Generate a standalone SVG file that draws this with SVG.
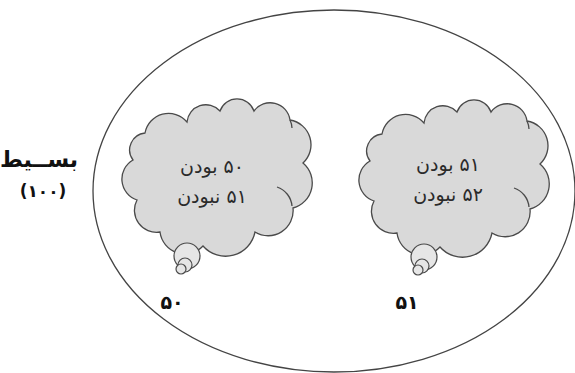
<svg xmlns="http://www.w3.org/2000/svg" width="575" height="373" viewBox="0 0 575 373">
<style>
.cloud{fill:#d9d9d9;stroke:#4a4a4a;stroke-width:1.3}
.bub{fill:#e6e6e6;stroke:#4a4a4a;stroke-width:1.2}
.inner{fill:none;stroke:#4a4a4a;stroke-width:1.3}
.ct{font-family:"DejaVu Sans",sans-serif;font-size:19px;fill:#2a2a2a;text-anchor:middle;direction:rtl}
.lb{font-family:"DejaVu Sans",sans-serif;font-weight:bold;fill:#111;text-anchor:middle}
</style>
<defs>
<g id="cloudShape">
<path class="cloud" d="M145 133 A24 24 0 0 1 187 122 A19 19 0 0 1 220 111 A18 18 0 0 1 254 111 A20 20 0 0 1 290 120 A25 25 0 0 1 303 163 A26 26 0 0 1 293 208 A25 25 0 0 1 255 232 A30 30 0 0 1 203 246 A25 25 0 0 1 160 232 A22 22 0 0 1 137 200 A22 22 0 0 1 133 160 A17 17 0 0 1 145 133 Z"/>
<path class="inner" d="M277 187 A22 22 0 0 1 292 206"/>
<path class="inner" d="M290 120 A20 20 0 0 1 292 128"/>
<circle class="bub" cx="187" cy="256" r="13"/>
<circle class="bub" cx="185" cy="265" r="7"/>
<circle class="bub" cx="181" cy="269" r="5"/>
</g>
</defs>
<g id="universe">
<ellipse cx="334" cy="191" rx="241" ry="181" fill="none" stroke="#444" stroke-width="1.3"/>
</g>
<g id="label-basit">
<text class="lb" x="39" y="167" font-size="22">بســیط</text>
<text class="lb" x="43" y="197" font-size="17">(۱۰۰)</text>
</g>
<g id="cloud-50">
<use href="#cloudShape"/>
<text class="ct" x="212" y="173">۵۰ بودن</text>
<text class="ct" x="212" y="203">۵۱ نبودن</text>
</g>
<g id="cloud-51">
<use href="#cloudShape" transform="translate(237,1)"/>
<text class="ct" x="448" y="171">۵۱ بودن</text>
<text class="ct" x="448" y="201">۵۲ نبودن</text>
</g>
<g id="label-50">
<text class="lb" x="172" y="309" font-size="19">۵۰</text>
</g>
<g id="label-51">
<text class="lb" x="407" y="309" font-size="19">۵۱</text>
</g>
<g id="connectors"/>
</svg>
